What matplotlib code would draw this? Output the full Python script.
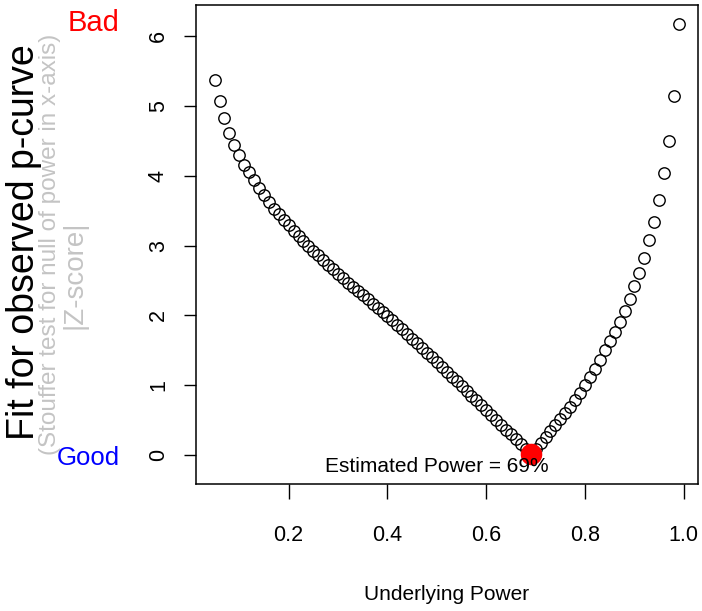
import matplotlib
matplotlib.use("Agg")
import matplotlib.pyplot as plt

plt.rcParams['font.family'] = ['Liberation Sans', 'DejaVu Sans']

# Underlying power (x) and |Z-score| fit (y)
power = [0.05, 0.06, 0.07, 0.08, 0.09, 0.10, 0.11, 0.12, 0.13, 0.14,
         0.15, 0.16, 0.17, 0.18, 0.19, 0.20, 0.21, 0.22, 0.23, 0.24,
         0.25, 0.26, 0.27, 0.28, 0.29, 0.30, 0.31, 0.32, 0.33, 0.34,
         0.35, 0.36, 0.37, 0.38, 0.39, 0.40, 0.41, 0.42, 0.43, 0.44,
         0.45, 0.46, 0.47, 0.48, 0.49, 0.50, 0.51, 0.52, 0.53, 0.54,
         0.55, 0.56, 0.57, 0.58, 0.59, 0.60, 0.61, 0.62, 0.63, 0.64,
         0.65, 0.66, 0.67, 0.68, 0.69, 0.70, 0.71, 0.72, 0.73, 0.74,
         0.75, 0.76, 0.77, 0.78, 0.79, 0.80, 0.81, 0.82, 0.83, 0.84,
         0.85, 0.86, 0.87, 0.88, 0.89, 0.90, 0.91, 0.92, 0.93, 0.94,
         0.95, 0.96, 0.97, 0.98, 0.99]
zfit = [5.38, 5.08, 4.83, 4.62, 4.44, 4.30, 4.16, 4.05, 3.94, 3.83,
        3.72, 3.63, 3.53, 3.45, 3.37, 3.29, 3.21, 3.14, 3.07, 3.00,
        2.93, 2.86, 2.795, 2.73, 2.665, 2.60, 2.535, 2.47, 2.41, 2.35,
        2.29, 2.23, 2.17, 2.11, 2.05, 1.99, 1.93, 1.87, 1.80, 1.735,
        1.67, 1.60, 1.535, 1.465, 1.40, 1.33, 1.26, 1.195, 1.125, 1.06,
        0.99, 0.92, 0.85, 0.785, 0.715, 0.645, 0.575, 0.505, 0.435, 0.365,
        0.295, 0.225, 0.155, 0.085, 0.02, 0.09, 0.17, 0.26, 0.34, 0.43,
        0.51, 0.60, 0.69, 0.79, 0.89, 1.00, 1.12, 1.24, 1.36, 1.50,
        1.63, 1.77, 1.91, 2.06, 2.23, 2.42, 2.61, 2.83, 3.08, 3.34,
        3.65, 4.04, 4.50, 5.14, 6.18]
best_power = 0.69
best_z = 0.02
estimate_label = "Estimated Power = 69%"
xticks = [0.2, 0.4, 0.6, 0.8, 1.0]
xtick_labels = ["0.2", "0.4", "0.6", "0.8", "1.0"]
yticks = [0, 1, 2, 3, 4, 5, 6]

W, H = 702, 611
fig = plt.figure(figsize=(W / 100, H / 100), dpi=100)
ax = fig.add_axes([196 / W, 1 - 484 / H, (697.5 - 196) / W, (484 - 5) / H])

ax.plot(power, zfit, linestyle='none', marker='o', markersize=8.2,
        markerfacecolor='none', markeredgecolor='black', markeredgewidth=1.0)
ax.plot([best_power], [best_z], linestyle='none', marker='o', markersize=14.5,
        color='red')
ax.text(0.50, -0.17, estimate_label, ha='center', va='center', fontsize=15)

ax.set_xlim(0.0124, 1.0276)
ax.set_ylim(-0.415, 6.45)
ax.set_xticks(xticks)
ax.set_xticklabels(xtick_labels)
ax.set_yticks(yticks)
ax.set_yticklabels([str(v) for v in yticks], rotation=90, va='center')
ax.tick_params(axis='x', length=11, width=1.0, pad=18.5, labelsize=15.5)
ax.tick_params(axis='y', length=8.5, width=1.0, pad=11, labelsize=15.5)
for s in ax.spines.values():
    s.set_linewidth(1.1)

ax.set_xlabel("Underlying Power", fontsize=15, labelpad=28)

def px(x, y):
    return x / W, 1 - y / H

fig.text(*px(24, 242), "Fit for observed p-curve", rotation=90, ha='center',
         va='center', fontsize=27, color='black')
fig.text(*px(50, 244), "(Stouffer test for null of power in x-axis)",
         rotation=90, ha='center', va='center', fontsize=17.5, color='#c4c4c4')
fig.text(*px(74, 275), "|Z-score|", rotation=90, ha='center', va='center',
         fontsize=20, color='#c4c4c4')
fig.text(*px(119, 23), "Bad", ha='right', va='center', fontsize=21,
         color='red')
fig.text(*px(120, 458), "Good", ha='right', va='center', fontsize=18.5,
         color='blue')

fig.savefig("out.png", dpi=100)
